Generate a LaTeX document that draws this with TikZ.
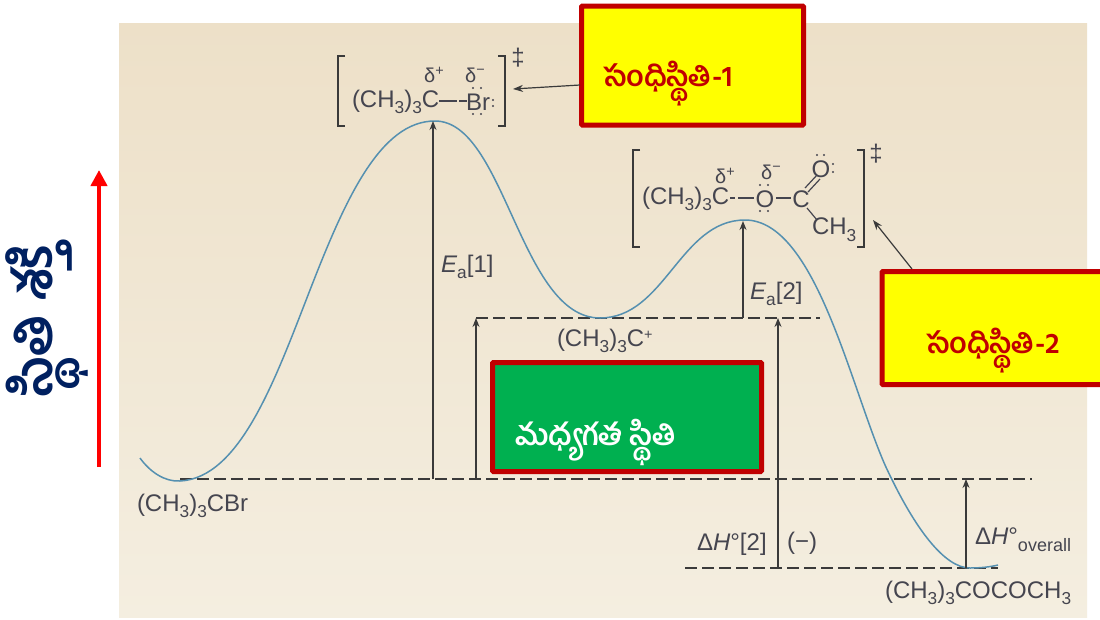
\documentclass[tikz,border=0pt]{standalone}
\usepackage{fontspec}
\usepackage{graphicx}
\setmainfont{Liberation Sans}
\newfontfamily\telfont[Script=Telugu]{Hind Guntur}
\usetikzlibrary{arrows.meta}
\definecolor{bgtop}{HTML}{EDE0C8}
\definecolor{bgbot}{HTML}{F4EEE0}
\definecolor{ink}{HTML}{45454F}
\definecolor{linec}{HTML}{3A3A3A}
\definecolor{curvec}{HTML}{5590B0}
\definecolor{boxred}{HTML}{C00000}
\definecolor{boxgreen}{HTML}{00B050}
\definecolor{navy}{HTML}{002060}
\definecolor{brightyellow}{RGB}{255,255,0}
\definecolor{brightred}{RGB}{255,0,0}
\newcommand{\subn}[1]{\raisebox{-.28em}{\scalebox{.72}{#1}}}
\newcommand{\supn}[1]{\raisebox{.38em}{\scalebox{.72}{#1}}}
\tikzset{
  every node/.style={inner sep=0pt,outer sep=0pt},
  lab/.style={text=ink,font=\fontsize{24}{26}\selectfont},
  smalllab/.style={text=ink,font=\fontsize{20}{22}\selectfont},
  dashline/.style={draw=linec,line width=1.4pt,dash pattern=on 12pt off 5pt},
  vertarrow/.style={draw=linec,line width=1.3pt,-{Stealth[length=9pt,width=7pt]}},
  brack/.style={draw=linec,line width=1.3pt},
  bond/.style={draw=ink,line width=1.2pt},
  energyline/.style={draw=curvec,line width=1.5pt},
  ptr/.style={draw=linec,line width=1.2pt,-{Stealth[length=10pt,width=7pt]}},
  callbox/.style={draw=boxred,line width=5pt,rounded corners=1pt},
  bigt/.style={font=\telfont\bfseries\fontsize{29}{31}\selectfont,text=boxred},
}
\begin{document}
\begin{tikzpicture}[x=1pt,y=-1pt]
\useasboundingbox (0,0) rectangle (1100,619);
\fill[white] (0,0) rectangle (1100,619);
\shade[top color=bgtop,bottom color=bgbot] (119,23) rectangle (1087,617);
% reference points
\coordinate (base) at (180,479);
\coordinate (baseR) at (1032,479);
\coordinate (midL) at (476,318);
\coordinate (midR) at (820,318);
\coordinate (lowL) at (685,568);
\coordinate (lowR) at (998,568);
\coordinate (p1) at (433,121);
\coordinate (p1b) at (433,479);
\coordinate (q1) at (476,479);
\coordinate (p2) at (743,221);
\coordinate (p2b) at (743,318);
\coordinate (r1) at (778,568);
\coordinate (r2) at (778,318);
\coordinate (s1) at (966,568);
\coordinate (s2) at (966,479);
\draw[dashline] (base) -- (baseR);
\draw[dashline] (midL) -- (midR);
\draw[dashline] (lowL) -- (lowR);
\draw[energyline] (140,458) .. controls (150,472) and (165,482) .. (180,481)
  .. controls (240,478) and (275,380) .. (310,290)
  .. controls (345,200) and (380,121) .. (435,121)
  .. controls (505,121) and (520,318) .. (600,318)
  .. controls (665,318) and (680,220) .. (745,220)
  .. controls (815,220) and (850,385) .. (885,465)
  .. controls (915,530) and (945,568) .. (970,568)
  .. controls (980,568) and (990,567) .. (998,565);
\draw[vertarrow] (p1b) -- (p1);
\draw[vertarrow] (q1) -- (midL);
\draw[vertarrow] (p2b) -- (p2);
\draw[vertarrow] (r1) -- (r2);
\draw[vertarrow] (s1) -- (s2);
% labels
\node[lab,anchor=west] (cbr) at (137,506) {(CH\subn{3})\subn{3}CBr};
\node[lab,anchor=west] (ea1) at (441,267) {\textit{E}\subn{a}[1]};
\node[lab,anchor=west] (ea2) at (750,294) {\textit{E}\subn{a}[2]};
\node[lab,anchor=west] (cat) at (557,341) {(CH\subn{3})\subn{3}C\raisebox{.3em}{\scalebox{.6}{+}}};
\node[lab,anchor=west] (dh2) at (697,544) {Δ\textit{H}°[2]};
\node[lab,anchor=west] (minus) at (787,543) {(−)};
\node[lab,anchor=west] (dho) at (975,540) {Δ\textit{H}°\raisebox{-.3em}{\scalebox{.75}{overall}}};
\node[lab,anchor=west] (prod) at (885,593) {(CH\subn{3})\subn{3}COCOCH\subn{3}};
% TS1
\draw[brack] (345,56) -- (338,56) -- (338,126) -- (345,126);
\draw[brack] (498,56) -- (505,56) -- (505,126) -- (498,126);
\node[lab] (dd1) at (518,58) {‡};
\node[smalllab] (dp1) at (434,75) {δ\supn{+}};
\node[smalllab] (dm1) at (475,75) {δ\supn{−}};
\node[lab,anchor=west] (ts1) at (352,102) {(CH\subn{3})\subn{3}C};
\node[lab,anchor=west] (br) at (466,102) {Br};
\draw[bond] (439,101) -- (457,101);
\draw[bond] (459,101) -- (467,101);
\foreach \x/\y in {473/88,481/88,473/114,481/114,493/100,493/106}
  \fill[ink] (\x,\y) circle (1.1pt);
% TS2
\draw[brack] (640,150) -- (633,150) -- (633,247) -- (640,247);
\draw[brack] (857,150) -- (864,150) -- (864,247) -- (857,247);
\node[lab] (dd2) at (876,154) {‡};
\node[smalllab] (dp2) at (725,176) {δ\supn{+}};
\node[smalllab] (dm2) at (771,172) {δ\supn{−}};
\node[lab,anchor=west] (ts2) at (642,199) {(CH\subn{3})\subn{3}C};
\node[lab] (o1) at (765,199) {O};
\node[lab] (c2) at (801,199) {C};
\node[lab] (o2) at (821,169) {O};
\node[lab,anchor=west] (ch3) at (812,230) {CH\subn{3}};
\draw[bond] (730,198) -- (735,198);
\draw[bond] (738,198) -- (754,198);
\draw[bond] (776,198) -- (791,198);
\draw[bond] (805,188) -- (817,175);
\draw[bond] (808,192) -- (820,179);
\draw[bond] (807,208) -- (817,220);
\foreach \x/\y in {760/185,768/185,760/211,768/211,817/155,824/155,833/164,833/172}
  \fill[ink] (\x,\y) circle (1.1pt);
% call-out boxes
\node[callbox,fill=brightyellow,minimum width=222pt,minimum height=119pt] (b1) at (692.5,65.5) {};
\node[bigt,anchor=west] (t1) at (603,84) {సంధిస్థితి-1};
\node[callbox,fill=brightyellow,minimum width=226pt,minimum height=113pt] (b2) at (995,328) {};
\node[bigt,anchor=west] (t2) at (926,351) {సంధిస్థితి-2};
\node[callbox,fill=boxgreen,minimum width=269pt,minimum height=109pt] (b3) at (627,417) {};
\node[anchor=west,text=white,font=\telfont\bfseries\fontsize{30}{32}\selectfont] (t3) at (515,442) {మధ్యగత స్థితి};
\coordinate (b1a) at (580,85);
\coordinate (ts1p) at (513,89);
\draw[ptr] (b1a) -- (ts1p);
\coordinate (b2a) at (912,269);
\coordinate (tsp) at (873,220);
\draw[ptr] (b2a) -- (tsp);
% left axis
\coordinate (ax0) at (99,467);
\coordinate (ax1) at (99,170);
\draw[brightred,line width=4.5pt,-{Triangle[length=16pt,width=16pt]}] (ax0) -- (ax1);
\node[rotate=90,font=\telfont\bfseries\fontsize{53}{55}\selectfont,text=navy] (yl) at (47,320) {స్థితి శక్తి};
\end{tikzpicture}
\end{document}
